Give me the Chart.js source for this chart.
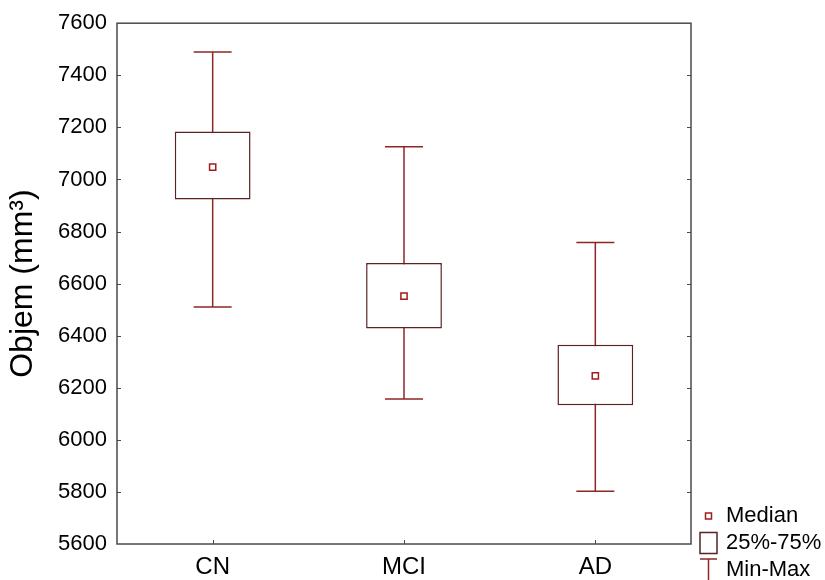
<!DOCTYPE html>
<html>
<head>
<meta charset="utf-8">
<script src="https://cdn.jsdelivr.net/npm/chart.js@4.4.1/dist/chart.umd.min.js"></script>
<style>
	html, body { margin: 0; padding: 0; background: #fff; }
	#wrap { width: 825px; height: 580px; }
</style>
</head>
<body>
<div id="wrap"><canvas id="boxChart"></canvas></div>
<script>
	// 그림에서 읽은 값
	const groups = ['CN', 'MCI', 'AD'];
	const minValues = [6510, 6157, 5803];
	const q1Values = [6923, 6428, 6133];
	const medianValues = [7047, 6552, 6246];
	const q3Values = [7184, 6679, 6365];
	const maxValues = [7489, 7126, 6758];
	const yTickValues = [5600, 5800, 6000, 6200, 6400, 6600, 6800, 7000, 7200, 7400, 7600];
	const legendLabels = ['Median', '25%-75%', 'Min-Max'];

	const whiskerColor = '#8e2626';
	const boxColor = '#5a2222';
	const medianColor = '#a31d1d';
	const frameColor = '#4a4a4a';
	const fontFamily = "'Liberation Sans', Arial, sans-serif";

	// 박스 (Q1 ~ Q3)
	const boxData = groups.map((g, i) => [q1Values[i], q3Values[i]]);
	// 수염: min ~ max, 그룹 사이는 null로 끊음
	const whiskerData = [];
	groups.forEach((g, i) => {
		whiskerData.push({ x: g, y: minValues[i] }, { x: g, y: maxValues[i] }, { x: g, y: null });
	});

	// 테두리와 안쪽 눈금
	const framePlugin = {
		id: 'frame',
		afterDatasetsDraw(chart) {
			const { ctx, chartArea, scales } = chart;
			ctx.save();
			ctx.strokeStyle = frameColor;
			ctx.lineWidth = 1.5;
			ctx.strokeRect(chartArea.left, chartArea.top, chartArea.right - chartArea.left, chartArea.bottom - chartArea.top);
			ctx.lineWidth = 1;
			ctx.beginPath();
			scales.y.ticks.forEach((t, i) => {
				if (i === 0 || i === scales.y.ticks.length - 1) return;
				const y = Math.round(scales.y.getPixelForTick(i)) + 0.5;
				ctx.moveTo(chartArea.left, y);
				ctx.lineTo(chartArea.left + 4, y);
				ctx.moveTo(chartArea.right - 4, y);
				ctx.lineTo(chartArea.right, y);
			});
			scales.x.ticks.forEach((t, i) => {
				const x = Math.round(scales.x.getPixelForTick(i)) + 0.5;
				ctx.moveTo(x, chartArea.bottom);
				ctx.lineTo(x, chartArea.bottom - 4);
			});
			ctx.stroke();
			ctx.restore();
		}
	};

	// 오른쪽 아래 범례
	const legendPlugin = {
		id: 'cornerLegend',
		afterDraw(chart) {
			const { ctx, chartArea } = chart;
			const cx = chartArea.right + 17.5;
			const textX = chartArea.right + 35;
			ctx.save();
			ctx.font = '22px ' + fontFamily;
			ctx.fillStyle = '#000';
			ctx.textBaseline = 'middle';
			legendLabels.forEach((label, i) => {
				const cy = chartArea.bottom - 28 + i * 27;
				ctx.lineWidth = 1.5;
				if (i === 0) {
					ctx.strokeStyle = medianColor;
					ctx.strokeRect(cx - 3, cy - 3, 6, 6);
				} else if (i === 1) {
					ctx.strokeStyle = boxColor;
					ctx.strokeRect(cx - 8.5, cy - 10.5, 17, 21);
				} else {
					ctx.strokeStyle = whiskerColor;
					ctx.beginPath();
					ctx.moveTo(cx - 8.5, cy - 11);
					ctx.lineTo(cx + 8.5, cy - 11);
					ctx.moveTo(cx, cy - 11);
					ctx.lineTo(cx, cy + 12);
					ctx.stroke();
				}
				ctx.fillText(label, textX, cy);
			});
			ctx.restore();
		}
	};

	const ctx = document.getElementById('boxChart').getContext('2d');
	const boxChart = new Chart(ctx, {
		type: 'bar',
		data: {
			labels: groups,
			datasets: [
				{
					type: 'line',
					label: 'Median',
					data: medianValues,
					showLine: false,
					pointStyle: 'rect',
					pointRadius: 4.4,
					pointBorderWidth: 1.5,
					pointBorderColor: medianColor,
					pointBackgroundColor: '#fff',
					order: 0
				},
				{
					label: '25%-75%',
					data: boxData,
					backgroundColor: '#fff',
					borderColor: boxColor,
					borderWidth: 1.5,
					borderSkipped: false,
					barPercentage: 0.396,
					categoryPercentage: 1,
					order: 1
				},
				{
					type: 'line',
					label: 'Min-Max',
					data: whiskerData,
					borderColor: whiskerColor,
					borderWidth: 1.5,
					tension: 0,
					pointStyle: 'line',
					pointRadius: 19,
					pointBorderWidth: 1.5,
					pointBorderColor: whiskerColor,
					order: 2
				}
			]
		},
		options: {
			responsive: true,
			maintainAspectRatio: false,
			animation: false,
			events: [],
			layout: {
				padding: { top: 16, right: 134, left: 2, bottom: 0 }
			},
			plugins: {
				legend: { display: false },
				tooltip: { enabled: false }
			},
			scales: {
				x: {
					afterFit: scale => { scale.height = 36; },
					grid: { display: false, drawTicks: false },
					border: { display: false },
					ticks: {
						color: '#000',
						padding: 10,
						font: { family: fontFamily, size: 24, lineHeight: 1.1 }
					}
				},
				y: {
					min: 5600,
					max: 7600,
					afterBuildTicks: axis => {
						axis.ticks = yTickValues.map(v => ({ value: v }));
					},
					afterFit: scale => { scale.width = 115; },
					grid: { display: false, drawTicks: false },
					border: { display: false },
					ticks: {
						color: '#000',
						padding: 10,
						font: { family: fontFamily, size: 22 },
						callback: value => String(value)
					},
					title: {
						display: true,
						text: 'Objem (mm³)',
						color: '#000',
						padding: { top: 2, bottom: 16 },
						font: { family: fontFamily, size: 32 }
					}
				}
			}
		},
		plugins: [framePlugin, legendPlugin]
	});
</script>
</body>
</html>
